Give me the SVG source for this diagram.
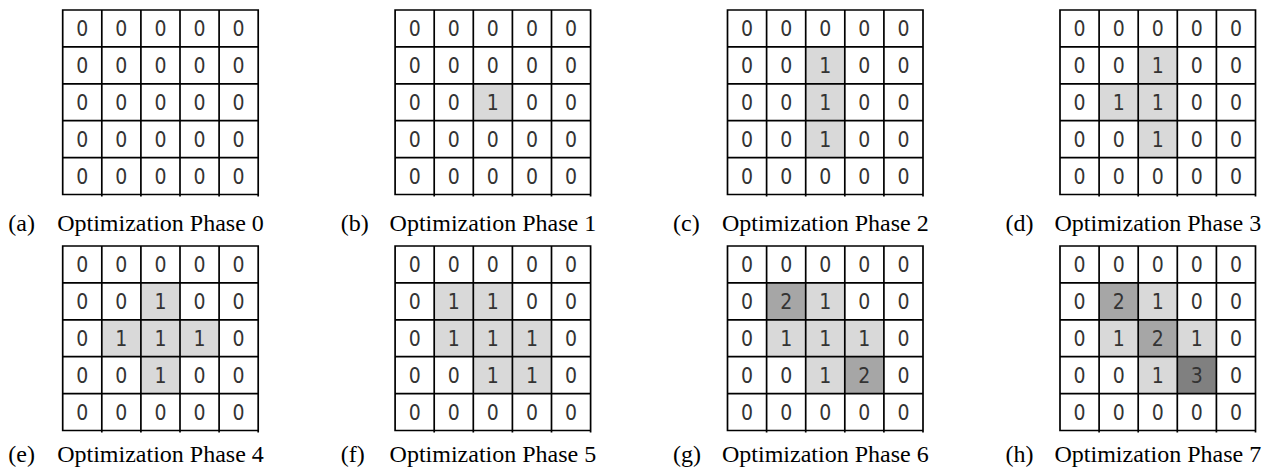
<svg xmlns="http://www.w3.org/2000/svg" width="1273" height="472" viewBox="0 0 1273 472">
<defs>
<style>
.bg{fill:#ffffff}
.c1{fill:#d9d9d9}
.c2{fill:#a6a6a6}
.c3{fill:#808080}
.gl{fill:none;stroke:#000;stroke-width:1.7}
.d{font-family:"DejaVu Sans",sans-serif;font-size:21px;font-stretch:condensed;fill:#333;text-anchor:middle}
.cap{font-family:"Liberation Serif","Times New Roman",serif;font-size:24px;fill:#000}
</style>
<path id="grid" class="gl" d="M0,0H195.5V184.5H0Z M39.1,0V186.5 M78.2,0V186.5 M117.3,0V186.5 M156.4,0V186.5 M195.5,0V186.5 M0,36.9H195.5 M0,73.8H195.5 M0,110.7H195.5 M0,147.6H195.5"/>
</defs>
<rect class="bg" x="0" y="0" width="1273" height="472"/>

<g id="grid-a" transform="translate(62.7,10)">
<g class="d">
<text x="19.55" y="26.1">0</text><text x="58.65" y="26.1">0</text><text x="97.75" y="26.1">0</text><text x="136.85" y="26.1">0</text><text x="175.95" y="26.1">0</text>
<text x="19.55" y="63">0</text><text x="58.65" y="63">0</text><text x="97.75" y="63">0</text><text x="136.85" y="63">0</text><text x="175.95" y="63">0</text>
<text x="19.55" y="99.9">0</text><text x="58.65" y="99.9">0</text><text x="97.75" y="99.9">0</text><text x="136.85" y="99.9">0</text><text x="175.95" y="99.9">0</text>
<text x="19.55" y="136.8">0</text><text x="58.65" y="136.8">0</text><text x="97.75" y="136.8">0</text><text x="136.85" y="136.8">0</text><text x="175.95" y="136.8">0</text>
<text x="19.55" y="173.7">0</text><text x="58.65" y="173.7">0</text><text x="97.75" y="173.7">0</text><text x="136.85" y="173.7">0</text><text x="175.95" y="173.7">0</text>
</g>
<use href="#grid"/>
<text class="cap" x="-54.4" y="220.5">(a)</text><text class="cap" x="-5.5" y="220.5">Optimization Phase 0</text>
</g>

<g id="grid-b" transform="translate(395.1,10)">
<rect class="c1" x="78.2" y="73.8" width="39.1" height="36.9"/>
<g class="d">
<text x="19.55" y="26.1">0</text><text x="58.65" y="26.1">0</text><text x="97.75" y="26.1">0</text><text x="136.85" y="26.1">0</text><text x="175.95" y="26.1">0</text>
<text x="19.55" y="63">0</text><text x="58.65" y="63">0</text><text x="97.75" y="63">0</text><text x="136.85" y="63">0</text><text x="175.95" y="63">0</text>
<text x="19.55" y="99.9">0</text><text x="58.65" y="99.9">0</text><text x="97.75" y="99.9">1</text><text x="136.85" y="99.9">0</text><text x="175.95" y="99.9">0</text>
<text x="19.55" y="136.8">0</text><text x="58.65" y="136.8">0</text><text x="97.75" y="136.8">0</text><text x="136.85" y="136.8">0</text><text x="175.95" y="136.8">0</text>
<text x="19.55" y="173.7">0</text><text x="58.65" y="173.7">0</text><text x="97.75" y="173.7">0</text><text x="136.85" y="173.7">0</text><text x="175.95" y="173.7">0</text>
</g>
<use href="#grid"/>
<text class="cap" x="-54.4" y="220.5">(b)</text><text class="cap" x="-5.5" y="220.5">Optimization Phase 1</text>
</g>

<g id="grid-c" transform="translate(727.5,10)">
<rect class="c1" x="78.2" y="36.9" width="39.1" height="110.7"/>
<g class="d">
<text x="19.55" y="26.1">0</text><text x="58.65" y="26.1">0</text><text x="97.75" y="26.1">0</text><text x="136.85" y="26.1">0</text><text x="175.95" y="26.1">0</text>
<text x="19.55" y="63">0</text><text x="58.65" y="63">0</text><text x="97.75" y="63">1</text><text x="136.85" y="63">0</text><text x="175.95" y="63">0</text>
<text x="19.55" y="99.9">0</text><text x="58.65" y="99.9">0</text><text x="97.75" y="99.9">1</text><text x="136.85" y="99.9">0</text><text x="175.95" y="99.9">0</text>
<text x="19.55" y="136.8">0</text><text x="58.65" y="136.8">0</text><text x="97.75" y="136.8">1</text><text x="136.85" y="136.8">0</text><text x="175.95" y="136.8">0</text>
<text x="19.55" y="173.7">0</text><text x="58.65" y="173.7">0</text><text x="97.75" y="173.7">0</text><text x="136.85" y="173.7">0</text><text x="175.95" y="173.7">0</text>
</g>
<use href="#grid"/>
<text class="cap" x="-54.4" y="220.5">(c)</text><text class="cap" x="-5.5" y="220.5">Optimization Phase 2</text>
</g>

<g id="grid-d" transform="translate(1060,10)">
<rect class="c1" x="78.2" y="36.9" width="39.1" height="110.7"/>
<rect class="c1" x="39.1" y="73.8" width="39.1" height="36.9"/>
<g class="d">
<text x="19.55" y="26.1">0</text><text x="58.65" y="26.1">0</text><text x="97.75" y="26.1">0</text><text x="136.85" y="26.1">0</text><text x="175.95" y="26.1">0</text>
<text x="19.55" y="63">0</text><text x="58.65" y="63">0</text><text x="97.75" y="63">1</text><text x="136.85" y="63">0</text><text x="175.95" y="63">0</text>
<text x="19.55" y="99.9">0</text><text x="58.65" y="99.9">1</text><text x="97.75" y="99.9">1</text><text x="136.85" y="99.9">0</text><text x="175.95" y="99.9">0</text>
<text x="19.55" y="136.8">0</text><text x="58.65" y="136.8">0</text><text x="97.75" y="136.8">1</text><text x="136.85" y="136.8">0</text><text x="175.95" y="136.8">0</text>
<text x="19.55" y="173.7">0</text><text x="58.65" y="173.7">0</text><text x="97.75" y="173.7">0</text><text x="136.85" y="173.7">0</text><text x="175.95" y="173.7">0</text>
</g>
<use href="#grid"/>
<text class="cap" x="-54.4" y="220.5">(d)</text><text class="cap" x="-5.5" y="220.5">Optimization Phase 3</text>
</g>

<g id="grid-e" transform="translate(62.7,246)">
<rect class="c1" x="78.2" y="36.9" width="39.1" height="110.7"/>
<rect class="c1" x="39.1" y="73.8" width="117.3" height="36.9"/>
<g class="d">
<text x="19.55" y="26.1">0</text><text x="58.65" y="26.1">0</text><text x="97.75" y="26.1">0</text><text x="136.85" y="26.1">0</text><text x="175.95" y="26.1">0</text>
<text x="19.55" y="63">0</text><text x="58.65" y="63">0</text><text x="97.75" y="63">1</text><text x="136.85" y="63">0</text><text x="175.95" y="63">0</text>
<text x="19.55" y="99.9">0</text><text x="58.65" y="99.9">1</text><text x="97.75" y="99.9">1</text><text x="136.85" y="99.9">1</text><text x="175.95" y="99.9">0</text>
<text x="19.55" y="136.8">0</text><text x="58.65" y="136.8">0</text><text x="97.75" y="136.8">1</text><text x="136.85" y="136.8">0</text><text x="175.95" y="136.8">0</text>
<text x="19.55" y="173.7">0</text><text x="58.65" y="173.7">0</text><text x="97.75" y="173.7">0</text><text x="136.85" y="173.7">0</text><text x="175.95" y="173.7">0</text>
</g>
<use href="#grid"/>
<text class="cap" x="-54.4" y="216">(e)</text><text class="cap" x="-5.5" y="216">Optimization Phase 4</text>
</g>

<g id="grid-f" transform="translate(395.1,246)">
<rect class="c1" x="39.1" y="36.9" width="78.2" height="73.8"/>
<rect class="c1" x="117.3" y="73.8" width="39.1" height="73.8"/>
<rect class="c1" x="78.2" y="110.7" width="39.1" height="36.9"/>
<g class="d">
<text x="19.55" y="26.1">0</text><text x="58.65" y="26.1">0</text><text x="97.75" y="26.1">0</text><text x="136.85" y="26.1">0</text><text x="175.95" y="26.1">0</text>
<text x="19.55" y="63">0</text><text x="58.65" y="63">1</text><text x="97.75" y="63">1</text><text x="136.85" y="63">0</text><text x="175.95" y="63">0</text>
<text x="19.55" y="99.9">0</text><text x="58.65" y="99.9">1</text><text x="97.75" y="99.9">1</text><text x="136.85" y="99.9">1</text><text x="175.95" y="99.9">0</text>
<text x="19.55" y="136.8">0</text><text x="58.65" y="136.8">0</text><text x="97.75" y="136.8">1</text><text x="136.85" y="136.8">1</text><text x="175.95" y="136.8">0</text>
<text x="19.55" y="173.7">0</text><text x="58.65" y="173.7">0</text><text x="97.75" y="173.7">0</text><text x="136.85" y="173.7">0</text><text x="175.95" y="173.7">0</text>
</g>
<use href="#grid"/>
<text class="cap" x="-54.4" y="216">(f)</text><text class="cap" x="-5.5" y="216">Optimization Phase 5</text>
</g>

<g id="grid-g" transform="translate(727.5,246)">
<rect class="c2" x="39.1" y="36.9" width="39.1" height="36.9"/>
<rect class="c1" x="78.2" y="36.9" width="39.1" height="36.9"/>
<rect class="c1" x="39.1" y="73.8" width="117.3" height="36.9"/>
<rect class="c1" x="78.2" y="110.7" width="39.1" height="36.9"/>
<rect class="c2" x="117.3" y="110.7" width="39.1" height="36.9"/>
<g class="d">
<text x="19.55" y="26.1">0</text><text x="58.65" y="26.1">0</text><text x="97.75" y="26.1">0</text><text x="136.85" y="26.1">0</text><text x="175.95" y="26.1">0</text>
<text x="19.55" y="63">0</text><text x="58.65" y="63">2</text><text x="97.75" y="63">1</text><text x="136.85" y="63">0</text><text x="175.95" y="63">0</text>
<text x="19.55" y="99.9">0</text><text x="58.65" y="99.9">1</text><text x="97.75" y="99.9">1</text><text x="136.85" y="99.9">1</text><text x="175.95" y="99.9">0</text>
<text x="19.55" y="136.8">0</text><text x="58.65" y="136.8">0</text><text x="97.75" y="136.8">1</text><text x="136.85" y="136.8">2</text><text x="175.95" y="136.8">0</text>
<text x="19.55" y="173.7">0</text><text x="58.65" y="173.7">0</text><text x="97.75" y="173.7">0</text><text x="136.85" y="173.7">0</text><text x="175.95" y="173.7">0</text>
</g>
<use href="#grid"/>
<text class="cap" x="-54.4" y="216">(g)</text><text class="cap" x="-5.5" y="216">Optimization Phase 6</text>
</g>

<g id="grid-h" transform="translate(1060,246)">
<rect class="c2" x="39.1" y="36.9" width="39.1" height="36.9"/>
<rect class="c1" x="78.2" y="36.9" width="39.1" height="36.9"/>
<rect class="c1" x="39.1" y="73.8" width="39.1" height="36.9"/>
<rect class="c2" x="78.2" y="73.8" width="39.1" height="36.9"/>
<rect class="c1" x="117.3" y="73.8" width="39.1" height="36.9"/>
<rect class="c1" x="78.2" y="110.7" width="39.1" height="36.9"/>
<rect class="c3" x="117.3" y="110.7" width="39.1" height="36.9"/>
<g class="d">
<text x="19.55" y="26.1">0</text><text x="58.65" y="26.1">0</text><text x="97.75" y="26.1">0</text><text x="136.85" y="26.1">0</text><text x="175.95" y="26.1">0</text>
<text x="19.55" y="63">0</text><text x="58.65" y="63">2</text><text x="97.75" y="63">1</text><text x="136.85" y="63">0</text><text x="175.95" y="63">0</text>
<text x="19.55" y="99.9">0</text><text x="58.65" y="99.9">1</text><text x="97.75" y="99.9">2</text><text x="136.85" y="99.9">1</text><text x="175.95" y="99.9">0</text>
<text x="19.55" y="136.8">0</text><text x="58.65" y="136.8">0</text><text x="97.75" y="136.8">1</text><text x="136.85" y="136.8">3</text><text x="175.95" y="136.8">0</text>
<text x="19.55" y="173.7">0</text><text x="58.65" y="173.7">0</text><text x="97.75" y="173.7">0</text><text x="136.85" y="173.7">0</text><text x="175.95" y="173.7">0</text>
</g>
<use href="#grid"/>
<text class="cap" x="-54.4" y="216">(h)</text><text class="cap" x="-5.5" y="216">Optimization Phase 7</text>
</g>
</svg>
